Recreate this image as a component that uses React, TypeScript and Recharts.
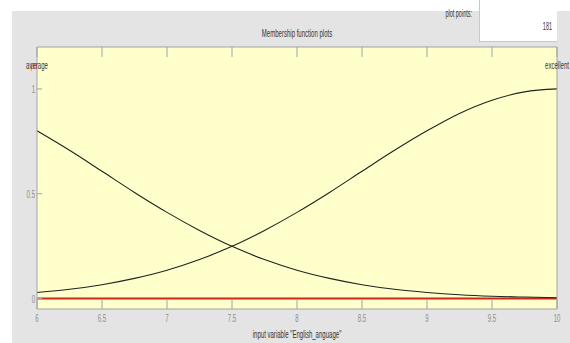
import React from "react";
import { LineChart, Line, XAxis, YAxis, CartesianGrid } from "recharts";

// membership function values (step 0.25)
const xValues = [6, 6.25, 6.5, 6.75, 7, 7.25, 7.5, 7.75, 8, 8.25, 8.5, 8.75, 9, 9.25, 9.5, 9.75, 10];
const averageValues = [0.8, 0.707, 0.607, 0.506, 0.411, 0.325, 0.249, 0.186, 0.135, 0.096, 0.066, 0.044, 0.029, 0.018, 0.011, 0.007, 0.004];
const excellentValues = [0.029, 0.044, 0.066, 0.096, 0.135, 0.186, 0.249, 0.325, 0.411, 0.506, 0.607, 0.707, 0.8, 0.883, 0.946, 0.986, 1.0];
const selectedValues = [0, 0, 0, 0, 0, 0, 0, 0, 0, 0, 0, 0, 0, 0, 0, 0, 0];

const xTicks = [6, 6.5, 7, 7.5, 8, 8.5, 9, 9.5, 10];
const yTicks = [0, 0.5, 1];

const data = xValues.map((x, i) => ({
  x,
  average: averageValues[i],
  excellent: excellentValues[i],
  selected: selectedValues[i],
}));

const W = 570;
const H = 343;
const PLOT_LEFT = 37;
const PLOT_RIGHT = 557;
const PLOT_TOP = 47;
const PLOT_BOTTOM = 309;
const FONT = "'Liberation Sans', Arial, sans-serif";
const SX = 0.55;
const FRAME = "#a3a3a3";
const TICK_TEXT = "#8c8c8c";

function SText({ x, y, anchor = "middle", size = 11, color = "#333", opacity = 1, children }: any) {
  return (
    <text
      transform={`translate(${x},${y}) scale(${SX},1)`}
      textAnchor={anchor}
      fontSize={size}
      fill={color}
      opacity={opacity}
      fontFamily={FONT}
    >
      {children}
    </text>
  );
}

function XTick({ x, payload }: any) {
  return (
    <g>
      <line x1={x} x2={x} y1={PLOT_BOTTOM} y2={PLOT_BOTTOM - 10} stroke={FRAME} />
      <line x1={x} x2={x} y1={PLOT_TOP} y2={PLOT_TOP + 10} stroke={FRAME} />
      <SText x={x} y={322} color={TICK_TEXT}>
        {String(payload.value)}
      </SText>
    </g>
  );
}

function YTick({ y, payload }: any) {
  return (
    <g>
      <line x1={PLOT_LEFT} x2={PLOT_LEFT + 5} y1={y} y2={y} stroke={FRAME} />
      <SText x={35} y={y + 4} anchor="end" color={TICK_TEXT}>
        {String(payload.value)}
      </SText>
    </g>
  );
}

export default function App() {
  return (
    <div style={{ position: "absolute", left: 0, top: 0, width: W, height: H, background: "#fff", overflow: "hidden" }}>
      <div style={{ position: "absolute", left: 12, top: 11, width: W - 12, height: H - 11, background: "#e4e4e4" }} />
      <div
        style={{
          position: "absolute",
          left: 479,
          top: 0,
          width: 78,
          height: 42,
          background: "#fff",
          borderLeft: "1px solid #c8c8c8",
          borderBottom: "1px solid #c8c8c8",
          boxSizing: "border-box",
        }}
      />
      <div style={{ position: "absolute", left: 0, top: 0 }}>
        <LineChart width={W} height={H} data={data} margin={{ top: PLOT_TOP, right: W - PLOT_RIGHT, bottom: 0, left: 0 }}>
          <CartesianGrid fill="#ffffcc" horizontal={false} vertical={false} />
          <XAxis
            dataKey="x"
            type="number"
            domain={[6, 10]}
            ticks={xTicks}
            interval={0}
            height={H - PLOT_BOTTOM}
            tickLine={false}
            axisLine={{ stroke: FRAME }}
            tick={<XTick />}
          />
          <YAxis
            type="number"
            domain={[-0.05, 1.2]}
            ticks={yTicks}
            interval={0}
            width={PLOT_LEFT}
            tickLine={false}
            axisLine={{ stroke: FRAME }}
            tick={<YTick />}
            allowDataOverflow
          />
          <Line dataKey="selected" type="linear" stroke="#cc2a1a" strokeWidth={2.2} dot={false} isAnimationActive={false} />
          <Line dataKey="average" type="monotone" stroke="#222" strokeWidth={1.1} dot={false} isAnimationActive={false} />
          <Line dataKey="excellent" type="monotone" stroke="#222" strokeWidth={1.1} dot={false} isAnimationActive={false} />
        </LineChart>
      </div>
      <svg width={W} height={H} style={{ position: "absolute", left: 0, top: 0, pointerEvents: "none" }}>
        <line x1={PLOT_LEFT} x2={PLOT_RIGHT} y1={PLOT_TOP} y2={PLOT_TOP} stroke={FRAME} />
        <line x1={PLOT_RIGHT} x2={PLOT_RIGHT} y1={PLOT_TOP} y2={PLOT_BOTTOM} stroke={FRAME} />
        <SText x={472} y={17} anchor="end" size={10}>plot points:</SText>
        <SText x={552} y={30} anchor="end" size={10}>181</SText>
        <SText x={297} y={37} size={11}>Membership function plots</SText>
        <SText x={37} y={69} size={11}>average</SText>
        <SText x={34} y={69} size={11} color="#d32a20" opacity={0.8}>pe</SText>
        <SText x={557} y={69} size={11}>excellent</SText>
        <SText x={297} y={338} size={11}>input variable "English_anguage"</SText>
      </svg>
    </div>
  );
}
